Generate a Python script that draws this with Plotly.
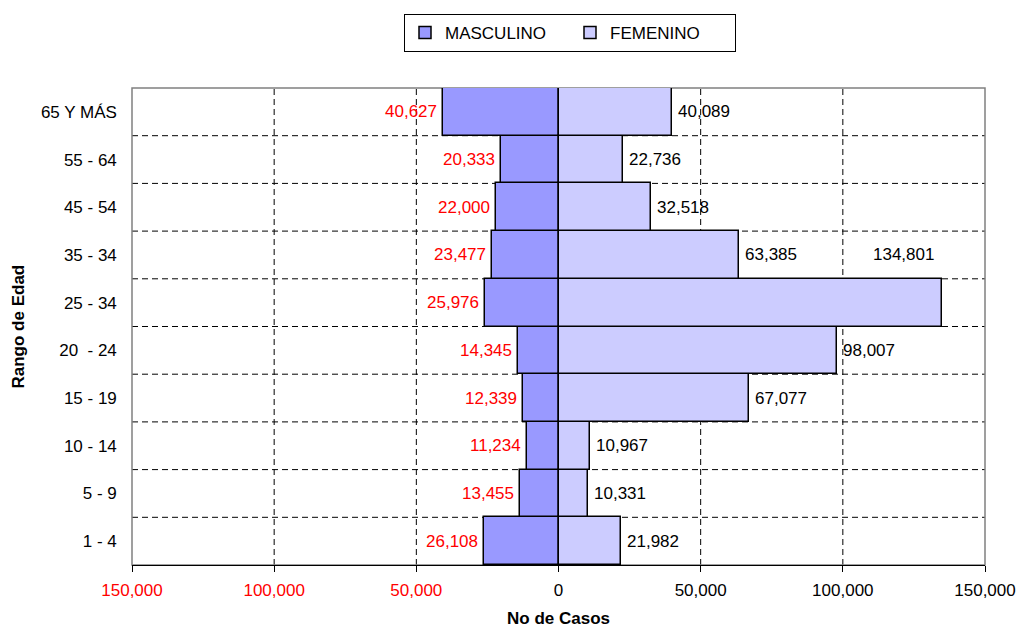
import plotly.graph_objects as go

categories = ["1 - 4", "5 - 9", "10 - 14", "15 - 19", "20\u00a0\u00a0- 24",
              "25 - 34", "35 - 34", "45 - 54", "55 - 64", "65 Y MÁS"]
masculino = [26108, 13455, 11234, 12339, 14345, 25976, 23477, 22000, 20333, 40627]
femenino = [21982, 10331, 10967, 67077, 98007, 134801, 63385, 32518, 22736, 40089]
tick_vals = [-150000, -100000, -50000, 0, 50000, 100000, 150000]
grid_vals = [-100000, -50000, 50000, 100000]

FONT = "Liberation Sans, Arial, sans-serif"
FS = 17

fig = go.Figure()
fig.add_trace(go.Bar(
    y=categories, x=[-v for v in masculino], orientation="h", name="MASCULINO",
    marker=dict(color="#9999FF", line=dict(color="black", width=1.5)),
    hoverinfo="skip"))
fig.add_trace(go.Bar(
    y=categories, x=femenino, orientation="h", name="FEMENINO",
    marker=dict(color="#CCCCFF", line=dict(color="black", width=1.5)),
    hoverinfo="skip"))

def fmt(v):
    return f"{abs(v):,}"

ann = []
for i, m in enumerate(masculino):
    ann.append(dict(x=-m, y=i, xref="x", yref="y", text=fmt(m), showarrow=False,
                    xanchor="right", xshift=-4, font=dict(color="#FF0000", size=FS, family=FONT)))
for i, f in enumerate(femenino):
    if f > 120000:
        # Excel placed this label in the row above, inside the plot
        ann.append(dict(x=110000, y=i + 1, xref="x", yref="y", text=fmt(f), showarrow=False,
                        xanchor="left", font=dict(color="black", size=FS, family=FONT)))
    else:
        ann.append(dict(x=f, y=i, xref="x", yref="y", text=fmt(f), showarrow=False,
                        xanchor="left", xshift=4, font=dict(color="black", size=FS, family=FONT)))

# axis titles
ann.append(dict(x=0.5, y=0, xref="paper", yref="paper", text="<b>No de Casos</b>",
                showarrow=False, yanchor="middle", yshift=-53,
                font=dict(size=FS, family=FONT, color="black")))
ann.append(dict(x=0, y=0.5, xref="paper", yref="paper", text="<b>Rango de Edad</b>",
                showarrow=False, xanchor="center", yanchor="middle", xshift=-114, textangle=-90,
                font=dict(size=FS, family=FONT, color="black")))

ticktext = []
for v in tick_vals:
    t = f"{abs(v):,}"
    if v < 0:
        t = f"<span style='color:#FF0000'>{t}</span>"
    ticktext.append(t)

shapes = []
for g in grid_vals:
    shapes.append(dict(type="line", xref="x", yref="paper", x0=g, x1=g, y0=0, y1=1,
                       line=dict(color="black", width=1, dash="6px,4px"), layer="below"))
for i in range(len(categories) - 1):
    shapes.append(dict(type="line", xref="paper", yref="y", x0=0, x1=1, y0=i + 0.5, y1=i + 0.5,
                       line=dict(color="black", width=1, dash="6px,4px"), layer="below"))
shapes.append(dict(type="rect", xref="paper", yref="paper", x0=0, x1=1, y0=0, y1=1,
                   line=dict(color="#808080", width=1.5), layer="below"))

fig.update_layout(
    width=1017, height=628,
    margin=dict(l=132, r=32, t=88, b=63, autoexpand=False),
    barmode="relative", bargap=0,
    plot_bgcolor="white", paper_bgcolor="white",
    font=dict(family=FONT, size=FS, color="black"),
    showlegend=True,
    legend=dict(orientation="h", xref="container", yref="container",
                x=570 / 1017, xanchor="center", y=1 - 14 / 628, yanchor="top",
                bordercolor="black", borderwidth=1, entrywidth=120,
                font=dict(size=FS, family=FONT), traceorder="normal",
                itemclick=False),
    xaxis=dict(range=[-150000, 150000], tickvals=tick_vals, ticktext=ticktext,
               showgrid=False, zeroline=False, showline=True, linecolor="black", linewidth=1,
               ticks="outside", ticklen=6, tickcolor="black", automargin=False,
               ticklabelstandoff=4,
               tickfont=dict(size=FS, family=FONT)),
    yaxis=dict(showgrid=False, zeroline=False, ticks="", showline=False, automargin=False,
               categoryorder="array", categoryarray=categories,
               tickfont=dict(size=FS, family=FONT), ticksuffix="   "),
    shapes=shapes,
    annotations=ann,
)

fig.write_html("out.html", config={"displayModeBar": False},
               post_script="document.body.style.margin='0';")
